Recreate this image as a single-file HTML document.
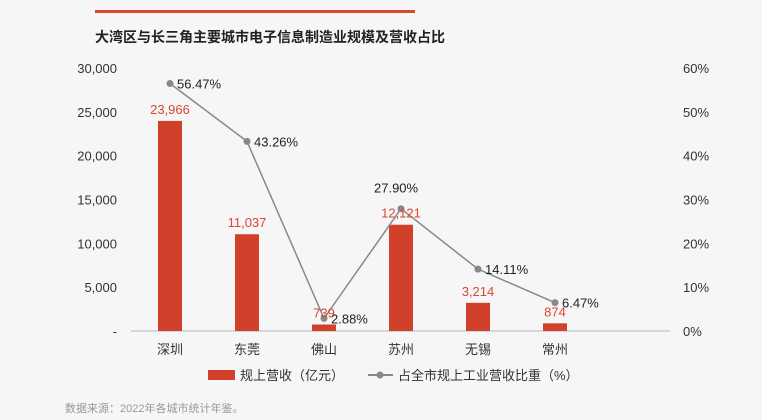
<!DOCTYPE html>
<html><head><meta charset="utf-8"><style>
body{margin:0;background:#f6f6f6;}
svg{display:block;font-family:"Liberation Sans","Noto Sans CJK SC",sans-serif;}
</style></head><body>
<svg id="c" width="762" height="420">
<rect x="95" y="10" width="320" height="3" fill="#d9472f"/>
<text x="95" y="42" font-size="14" font-weight="bold" fill="#222">大湾区与长三角主要城市电子信息制造业规模及营收占比</text>
<line x1="131" y1="331" x2="670" y2="331" stroke="#ccc" stroke-width="1.5"/>
<g id="g"></g>
<g>
<rect x="208" y="370" width="27" height="10" fill="#d0402a"/>
<text x="240" y="380" font-size="13" fill="#333">规上营收（亿元）</text>
<line x1="368" y1="375" x2="393" y2="375" stroke="#888" stroke-width="2"/>
<circle cx="380" cy="375" r="3.5" fill="#888"/>
<text x="398" y="380" font-size="13" fill="#333">占全市规上工业营收比重（%）</text>
</g>
<text x="65" y="412" font-size="11" fill="#999">数据来源：2022年各城市统计年鉴。</text>
</svg>
<script>
const categories=["深圳","东莞","佛山","苏州","无锡","常州"];
const revenue=[23966,11037,739,12121,3214,874];
const share=[56.47,43.26,2.88,27.90,14.11,6.47];
const leftTicks=[0,5000,10000,15000,20000,25000,30000];
const rightTicks=[0,10,20,30,40,50,60];
const NS="http://www.w3.org/2000/svg";
const g=document.getElementById("g");
const y0=331,yTop=68;
const yL=v=>y0-(v/30000)*(y0-yTop);
const yR=v=>y0-(v/60)*(y0-yTop);
const xC=i=>131+77*i+39;
function mk(t,a){const e=document.createElementNS(NS,t);for(const k in a)e.setAttribute(k,a[k]);g.appendChild(e);return e;}
leftTicks.forEach(v=>{const t=mk("text",{x:117,y:yL(v)+5,"font-size":13,fill:"#333","text-anchor":"end"});t.textContent=v===0?"-":v.toLocaleString("en-US");

});
rightTicks.forEach(v=>{const t=mk("text",{x:683,y:yR(v)+5,"font-size":13,fill:"#333"});t.textContent=v+"%";

});
categories.forEach((c,i)=>{const t=mk("text",{x:xC(i),y:354,"font-size":13,fill:"#333","text-anchor":"middle"});t.textContent=c;

});
revenue.forEach((v,i)=>{const r=mk("rect",{x:xC(i)-12,y:yL(v),width:24,height:y0-yL(v),fill:"#d0402a"});

});
const pts=share.map((v,i)=>xC(i)+","+yR(v)).join(" ");
const pl=mk("polyline",{points:pts,fill:"none",stroke:"#888","stroke-width":1.5});


share.forEach((v,i)=>{const c=mk("circle",{cx:xC(i),cy:yR(v),r:3.5,fill:"#888"});

});
revenue.forEach((v,i)=>{const t=mk("text",{x:xC(i),y:yL(v)-7,"font-size":13,fill:"#d9472f","text-anchor":"middle"});t.textContent=v.toLocaleString("en-US");

});
share.forEach((v,i)=>{const above=i===3;const t=mk("text",{x:above?xC(i)-27:xC(i)+7,y:above?yR(v)-16:yR(v)+5,"font-size":13,fill:"#222"});t.textContent=v.toFixed(2)+"%";

});
</script>
</body></html>
